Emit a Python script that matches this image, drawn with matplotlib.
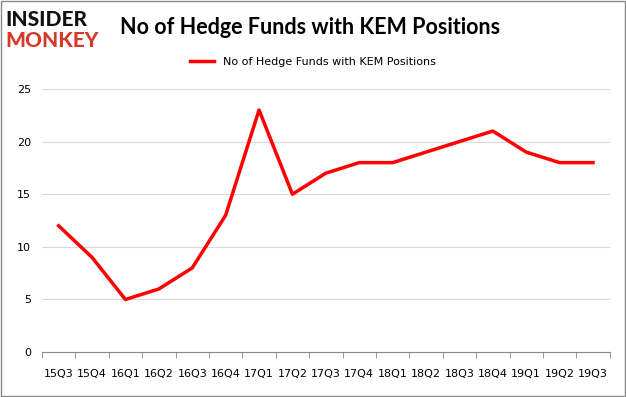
import matplotlib.pyplot as plt

quarters = ["15Q3", "15Q4", "16Q1", "16Q2", "16Q3", "16Q4", "17Q1", "17Q2", "17Q3",
            "17Q4", "18Q1", "18Q2", "18Q3", "18Q4", "19Q1", "19Q2", "19Q3"]
hedge_funds = [12, 9, 5, 6, 8, 13, 23, 15, 17, 18, 18, 19, 20, 21, 19, 18, 18]
label = "No of Hedge Funds with KEM Positions"

fig = plt.figure(figsize=(6.26, 3.97), dpi=100)
ax = fig.add_axes([0.067, 0.113, 0.907, 0.663])

x = list(range(len(quarters)))
ax.plot(x, hedge_funds, color="#ff0000", linewidth=2.5, label=label)

ax.set_xlim(-0.5, len(quarters) - 0.5)
ax.set_ylim(0, 25)
ax.set_yticks([0, 5, 10, 15, 20, 25])
ax.grid(axis="y", color="#d9d9d9", linewidth=0.8)
ax.set_axisbelow(True)

ax.set_xticks(x)
ax.set_xticklabels(quarters, fontsize=8)
ax.tick_params(axis="x", length=0, pad=12)
ax.set_xticks([i - 0.5 for i in range(len(quarters) + 1)], minor=True)
ax.tick_params(axis="x", which="minor", length=4, color="#888888")
ax.tick_params(axis="y", length=0, labelsize=8, pad=8)

for s in ["top", "right", "left"]:
    ax.spines[s].set_visible(False)
ax.spines["bottom"].set_color("#888888")

fig.text(0.192, 0.93, "No of Hedge Funds with KEM Positions", fontsize=15.5,
         fontweight="bold", family="Lato", va="center", ha="left")
fig.text(0.008, 0.952, "INSIDER", fontsize=15, fontweight="black", family="Lato",
         color="#111111", va="center", ha="left")
fig.text(0.008, 0.898, "MONKEY", fontsize=15, fontweight="black", family="Lato",
         color="#d63a2a", va="center", ha="left")

fig.legend(loc="center", bbox_to_anchor=(0.5, 0.843), frameon=False, fontsize=8,
           handlelength=2.2)

fig.patches.append(plt.Rectangle((0.002, 0.003), 0.996, 0.994, transform=fig.transFigure,
                                 fill=False, edgecolor="#888888", linewidth=1))

fig.savefig("out.png", dpi=100)
